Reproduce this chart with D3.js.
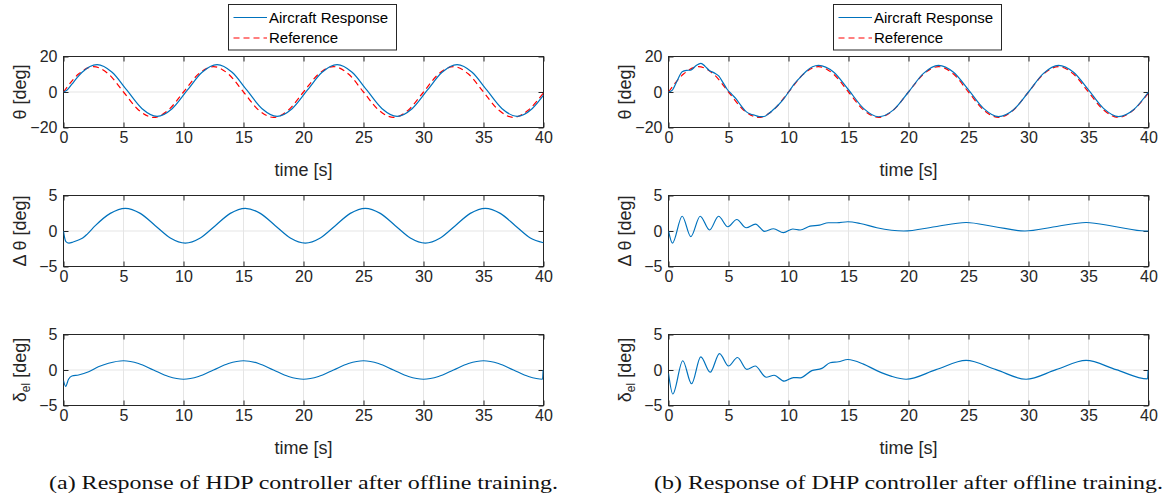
<!DOCTYPE html>
<html><head><meta charset="utf-8">
<script src="https://cdn.jsdelivr.net/npm/d3@7"></script>
<style>body{margin:0;background:#fff} svg{display:block}</style>
</head><body><svg id="c" width="1165" height="497"></svg>
<script>
// ---------- data ----------
const xTicks = [0, 5, 10, 15, 20, 25, 30, 35, 40];
const thetaTicks = [-20, 0, 20];
const smallTicks = [-5, 0, 5];
const legendLabels = ["Aircraft Response", "Reference"];
const captions = ["(a) Response of HDP controller after offline training.",
                  "(b) Response of DHP controller after offline training."];

// reference pitch angle (same in both panels)
const refTime = [0,1.25,2.5,3.75,5,6.25,7.5,8.75,10,11.25,12.5,13.75,15,16.25,17.5,18.75,20,21.25,22.5,23.75,25,26.25,27.5,28.75,30,31.25,32.5,33.75,35,36.25,37.5,38.75,40];
const refTheta = [0,10.1,14.3,10.1,0,-10.1,-14.3,-10.1,0,10.1,14.3,10.1,0,-10.1,-14.3,-10.1,0,10.1,14.3,10.1,0,-10.1,-14.3,-10.1,0,10.1,14.3,10.1,0,-10.1,-14.3,-10.1,-0.5];

// HDP panel
const hdpThetaTime = [0,0.3,0.7,1.1,1.55,2.8,4.05,5.3,6.55,7.8,9.05,10.3,11.55,12.8,14.05,15.3,16.55,17.8,19.05,20.3,21.55,22.8,24.05,25.3,26.55,27.8,29.05,30.3,31.55,32.8,34.05,35.3,36.55,37.8,39.05,40];
const hdpTheta = [0,1.1,4.4,7.8,11.1,15.4,11.1,0.85,-9.4,-13.7,-9.4,0.85,11.1,15.4,11.1,0.85,-9.4,-13.7,-9.4,0.85,11.1,15.4,11.1,0.85,-9.4,-13.7,-9.4,0.85,11.1,15.4,11.1,0.85,-9.4,-13.7,-9.4,-1.8];
const hdpDThetaTime = [0,0.1,0.2,0.45,0.8,1.2,1.6,2.0,2.65,3.9,5.15,6.4,7.65,8.9,10.15,11.4,12.65,13.9,15.15,16.4,17.65,18.9,20.15,21.4,22.65,23.9,25.15,26.4,27.65,28.9,30.15,31.4,32.65,33.9,35.15,36.4,37.65,38.9,40];
const hdpDTheta = [0,-1.0,-1.5,-1.7,-1.55,-1.3,-1.0,-0.4,0.75,2.48,3.2,2.48,0.75,-0.98,-1.7,-0.98,0.75,2.48,3.2,2.48,0.75,-0.98,-1.7,-0.98,0.75,2.48,3.2,2.48,0.75,-0.98,-1.7,-0.98,0.75,2.48,3.2,2.48,0.75,-0.98,-1.65];
const hdpElevTime = [0,0.18,0.42,0.7,1.25,2.1,2.9,3.75,5,6.25,7.5,8.75,10,11.25,12.5,13.75,15,16.25,17.5,18.75,20,21.25,22.5,23.75,25,26.25,27.5,28.75,30,31.25,32.5,33.75,35,36.25,37.5,38.75,39.92,39.97];
const hdpElev = [-1.5,-2.3,-1.3,-0.85,-0.7,-0.25,0.45,0.95,1.3,0.92,0,-0.92,-1.3,-0.92,0,0.92,1.3,0.92,0,-0.92,-1.3,-0.92,0,0.92,1.3,0.92,0,-0.92,-1.3,-0.92,0,0.92,1.3,0.92,0,-0.92,-1.3,0];

// DHP panel
const dhpThetaTime = [0,0.15,0.3,0.72,1.14,1.5,1.86,2.28,2.7,3.05,3.4,3.8,4.2,4.53,4.87,5.26,5.65,6.06,6.47,6.83,7.2,7.58,7.97,8.33,8.7,9.15,9.6,10.05,10.5,10.75,11.0,11.5,12.0,12.5,13.75,15,16.25,17.5,18.75,20,21.25,22.5,23.75,25,26.25,27.5,28.75,30,31.25,32.5,33.75,35,36.25,37.5,38.75,40];
const dhpTheta = [0,0.35,0.91,6.35,11.4,12.17,12.31,14.76,16.18,14.46,12.14,10.78,8.89,5.43,1.7,-1.23,-4.05,-7.82,-11.04,-12.41,-13.1,-13.89,-13.79,-12.31,-10.18,-7.31,-3.86,0.43,4.67,6.61,8.41,11.87,14.2,15.03,11.28,1.27,-9.2,-13.95,-10.06,0,10.5,15.0,11.1,1.2,-9.2,-13.85,-10.0,0,10.5,15.0,11.1,1.2,-9.2,-13.85,-10.0,0];
const dhpDThetaTime = [0,0.33,1.14,1.86,2.64,3.42,4.17,4.94,5.69,6.47,7.25,8.0,8.75,9.58,10.36,10.97,11.8,12.58,13.33,14.03,14.94,15.97,17.36,19.6,22.2,24.8,27.2,29.7,32.2,34.8,37.3,39.7,40];
const dhpDTheta = [0,-1.71,2.08,-0.79,2.08,0.14,2.08,0.6,1.62,0.46,0.97,-0.05,0.32,-0.23,0.28,0.14,0.69,0.83,1.16,1.16,1.3,1.06,0.46,0,0.6,1.2,0.6,0,0.6,1.2,0.6,0,0];
const dhpElevTime = [0,0.36,1.19,1.92,2.69,3.47,4.25,5.0,5.75,6.53,7.22,8.14,8.8,9.64,10.42,10.97,11.94,12.78,13.47,14.17,14.94,16.25,17.36,18.6,19.8,22.3,24.8,27.3,29.8,32.3,34.8,37.3,39.92,39.97];
const dhpElev = [-0.46,-3.38,1.3,-1.94,1.85,-0.32,2.31,0.56,1.76,0.09,0.56,-1.02,-0.74,-1.57,-1.06,-1.1,-0.09,0.23,1.02,1.16,1.48,0.83,-0.09,-0.9,-1.3,0.05,1.35,0.05,-1.3,0.05,1.35,0.05,-1.25,0];

// ---------- drawing ----------
const svg = d3.select('#c');
const FONT = '"Liberation Sans", Arial, Helvetica, sans-serif';
const AX = '#262626', GRID = '#e5e5e5', BLUE = '#0072BD', RED = '#FF0000';
const panelX = [63.5, 668.5];
const rowY = [56.5, 195.5, 334.5];
const W = 480, H = 71;
const zip = (t, v) => t.map((d, i) => [d, v[i]]);
let clipId = 0;

function drawAxes(px, py, yDomain, yTicks, series, ylabel, withXLabel) {
  const x = d3.scaleLinear().domain([0, 40]).range([px, px + W]);
  const y = d3.scaleLinear().domain(yDomain).range([py + H, py]);
  const g = svg.append('g');
  // grid
  g.selectAll('.gx').data(xTicks).join('line')
    .attr('x1', d => x(d)).attr('x2', d => x(d)).attr('y1', py).attr('y2', py + H)
    .attr('stroke', GRID).attr('stroke-width', 1);
  g.selectAll('.gy').data(yTicks).join('line')
    .attr('y1', d => y(d)).attr('y2', d => y(d)).attr('x1', px).attr('x2', px + W)
    .attr('stroke', GRID).attr('stroke-width', 1);
  // axes (ticks inward on all four sides)
  const styleAxis = (a) => {
    a.select('.domain').remove();
    a.selectAll('line').attr('stroke', AX);
    a.selectAll('text').attr('fill', AX).attr('font-family', FONT).attr('font-size', 16);
  };
  g.append('g').attr('transform', `translate(0,${py + H})`)
    .call(d3.axisBottom(x).tickValues(xTicks).tickSize(-5).tickPadding(4)).call(styleAxis);
  g.append('g').attr('transform', `translate(0,${py})`)
    .call(d3.axisTop(x).tickValues(xTicks).tickSize(-5).tickFormat('')).call(styleAxis);
  g.append('g').attr('transform', `translate(${px},0)`)
    .call(d3.axisLeft(y).tickValues(yTicks).tickSize(-5).tickPadding(6)).call(styleAxis);
  g.append('g').attr('transform', `translate(${px + W},0)`)
    .call(d3.axisRight(y).tickValues(yTicks).tickSize(-5).tickFormat('')).call(styleAxis);
  g.append('rect').attr('x', px).attr('y', py).attr('width', W).attr('height', H)
    .attr('fill', 'none').attr('stroke', AX).attr('stroke-width', 1);
  // data (drawn on top of the box)
  const id = 'clip' + (clipId++);
  svg.append('clipPath').attr('id', id).append('rect')
    .attr('x', px).attr('y', py - 1).attr('width', W).attr('height', H + 2);
  const line = d3.line().x(d => x(d[0])).y(d => y(d[1])).curve(d3.curveMonotoneX);
  const dg = g.append('g').attr('clip-path', `url(#${id})`);
  series.forEach(s => {
    dg.append('path').attr('d', line(s.data)).attr('fill', 'none')
      .attr('stroke', s.color).attr('stroke-width', s.width)
      .attr('stroke-dasharray', s.dash || null);
  });
  // y label
  const yl = g.append('text').attr('transform', `translate(${px - 38},${py + H / 2}) rotate(-90)`)
    .attr('text-anchor', 'middle').attr('font-family', FONT).attr('font-size', 18).attr('fill', AX);
  ylabel(yl);
  if (withXLabel) {
    g.append('text').attr('x', px + W / 2).attr('y', py + H + 48).attr('text-anchor', 'middle')
      .attr('font-family', FONT).attr('font-size', 18).attr('fill', AX).text('time [s]');
  }
}

function legend(cx) {
  const lx = cx - 75, ly = 4.5, lw = 168, lh = 45.5;
  const g = svg.append('g');
  g.append('rect').attr('x', lx).attr('y', ly).attr('width', lw).attr('height', lh)
    .attr('fill', '#fff').attr('stroke', AX).attr('stroke-width', 1);
  const rows = [{ c: BLUE, dash: null, w: 1.2 }, { c: RED, dash: '6,4', w: 1.2 }];
  rows.forEach((r, i) => {
    const yy = ly + 13 + i * 20.5;
    g.append('line').attr('x1', lx + 5).attr('x2', lx + 38.5).attr('y1', yy).attr('y2', yy)
      .attr('stroke', r.c).attr('stroke-width', r.w).attr('stroke-dasharray', r.dash);
    g.append('text').attr('x', lx + 40.5).attr('y', yy + 5).attr('font-family', FONT)
      .attr('font-size', 15).attr('fill', '#000').text(legendLabels[i]);
  });
}

const thetaLabel = t => t.text('θ [deg]');
const dThetaLabel = t => t.text('Δ θ [deg]');
const elevLabel = t => {
  t.append('tspan').text('δ');
  t.append('tspan').attr('font-size', 12).attr('dy', 4).text('el');
  t.append('tspan').attr('dy', -4).text(' [deg]');
};

const panels = [
  { theta: zip(hdpThetaTime, hdpTheta), dth: zip(hdpDThetaTime, hdpDTheta), el: zip(hdpElevTime, hdpElev) },
  { theta: zip(dhpThetaTime, dhpTheta), dth: zip(dhpDThetaTime, dhpDTheta), el: zip(dhpElevTime, dhpElev) }
];
const refData = zip(refTime, refTheta);

panels.forEach((p, k) => {
  const px = panelX[k];
  drawAxes(px, rowY[0], [-20, 20], thetaTicks, [
    { data: refData, color: RED, width: 1.2, dash: '6,4' },
    { data: p.theta, color: BLUE, width: 1.2 }
  ], thetaLabel, true);
  drawAxes(px, rowY[1], [-5, 5], smallTicks, [{ data: p.dth, color: BLUE, width: 1.2 }], dThetaLabel, false);
  drawAxes(px, rowY[2], [-5, 5], smallTicks, [{ data: p.el, color: BLUE, width: 1.2 }], elevLabel, true);
  legend(px + W / 2);
  svg.append('text').attr('x', px + W / 2).attr('y', 489).attr('text-anchor', 'middle')
    .attr('font-family', '"Liberation Serif", "Times New Roman", serif').attr('font-size', 18)
    .attr('fill', '#111').attr('textLength', 509).attr('lengthAdjust', 'spacingAndGlyphs')
    .text(captions[k]);
});
</script></body></html>
